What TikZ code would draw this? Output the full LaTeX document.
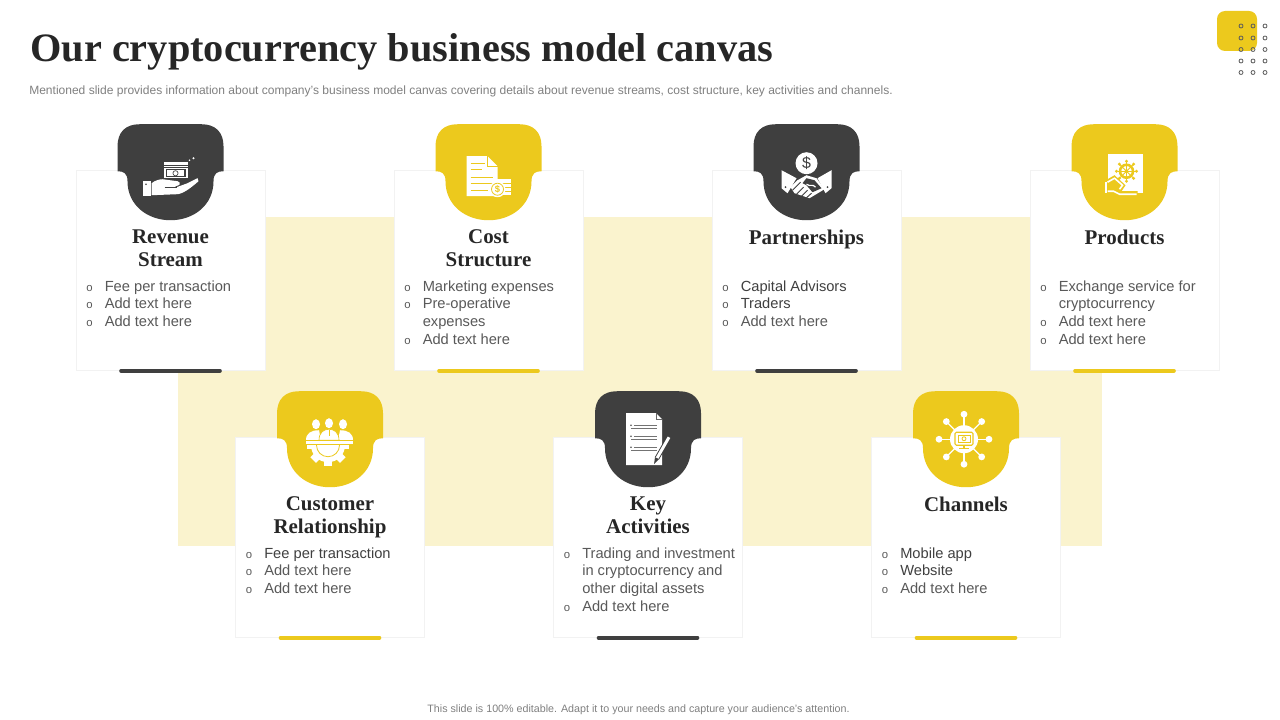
\documentclass[tikz,border=0pt]{standalone}
\usepackage{fontspec}
\setmainfont{Liberation Sans}
\newfontfamily\headfont{Liberation Serif}
\usetikzlibrary{positioning,shadows}
\definecolor{inkgrey}{HTML}{3F3F3F}
\definecolor{signal}{HTML}{ECC91D}
\definecolor{paleband}{HTML}{FAF3CE}
\definecolor{softtext}{HTML}{595959}
\definecolor{darktext}{HTML}{404040}
\definecolor{notegrey}{HTML}{7F7F7F}
\newcommand{\bul}{\llap{\fontsize{8.5}{8.5}\selectfont o\hspace{9pt}}}
\newcommand{\dk}[1]{\textcolor{darktext}{#1}}
\tikzset{
  card/.style={draw=black!5,fill=white,minimum width=141.5pt,minimum height=150pt,inner sep=0,
    drop shadow={shadow xshift=.7pt,shadow yshift=-.7pt,opacity=.1,fill=black}},
  cardhead/.style={align=center,inner sep=0,anchor=north,text=black!85,
    font=\headfont\bfseries\fontsize{15.7}{17.3}\selectfont},
  itemlist/.style={align=left,inner sep=0,anchor=north west,text=softtext,
    font=\fontsize{11}{13.2}\selectfont},
  bar/.style={line width=3pt,line cap=round},
  pics/badge/.style={code={
    \fill[#1] (-53,-24) .. controls (-53,-38) and (-45,-46) .. (-31,-46) -- (31,-46)
      .. controls (45,-46) and (53,-38) .. (53,-24) -- (53,1)
      .. controls (47,1) and (43,3) .. (43,11) .. controls (43,35) and (23,50) .. (0,50)
      .. controls (-23,50) and (-43,35) .. (-43,11) .. controls (-43,3) and (-47,1) .. (-53,1) -- cycle;
  }},
  pics/moneyhand/.style={code={
    \fill[white] (-28,11) rectangle (-20,26);
    \fill[inkgrey] (-24.5,14) circle (.8);
    \fill[white] (-19,13) .. controls (-15,10) and (-11,9) .. (-8,9) -- (7,11)
      .. controls (11,12) and (10,16) .. (4,16) -- (6,17) -- (17,13) -- (27,8) -- (28,11)
      .. controls (20,18) and (12,24) .. (6,24) -- (-19,25) -- cycle;
    \draw[inkgrey,line width=.5pt] (-6,17) -- (6,17);
    \fill[white] (-7,-8) rectangle (17,8);
    \draw[inkgrey,line width=.4pt] (-7,-5) -- (17,-5) (-7,-2.5) -- (17,-2.5);
    \fill[inkgrey] (-5,-1) rectangle (15,7);
    \fill[white] (-3.5,0) rectangle (13.5,6);
    \draw[inkgrey,line width=.5pt] (5,3) circle (2.6);
    \fill[white] (23,-12) circle (1.2) (19,-10) circle (.9);
  }},
  pics/costdoc/.style={code={
    \fill[white] (-22,-14) -- (-1,-14) -- (9,-4) -- (9,26) -- (-22,26) -- cycle;
    \draw[signal,line width=.6pt] (-1,-14) -- (-1,-4) -- (9,-4);
    \draw[signal,line width=1pt] (-18,-7) -- (-4,-7) (-18,-1) -- (-7,-1) (-18,7) -- (4,7)
      (-18,13) -- (4,13) (-18,20) -- (-1,20);
    \fill[white] (6,9) rectangle (22,25);
    \draw[signal,line width=.6pt] (10,13) -- (22,13) (10,17) -- (22,17) (10,21) -- (22,21);
    \fill[white] (9,19) circle (8);
    \draw[signal,line width=.6pt] (9,19) circle (6);
    \node[inner sep=0,text=signal,font=\bfseries\fontsize{7}{7}\selectfont] (-d) at (9,19) {\$};
  }},
  pics/shake/.style={code={
    \fill[white] (0,-7) circle (11);
    \node[inner sep=0,text=inkgrey,font=\fontsize{12}{12}\selectfont] (-d) at (0,-7) {\$};
    \fill[white] (-25,0) -- (-10,8) -- (-19,23) -- (-25,18) -- cycle;
    \fill[white] (25,0) -- (11,8) -- (19,23) -- (25,18) -- cycle;
    \fill[white] (-9,10) -- (0,5) -- (10,8) -- (18,19) -- (3,28) -- (-12,23) -- (-16,17) -- cycle;
    \fill[inkgrey] (-4,13) -- (0,8) -- (8,10) -- (15,18) -- (6,22) -- (0,15) -- cycle;
    \draw[white,line width=.9pt] (0,14) .. controls (4,17) and (6,13) .. (9,17);
    \draw[inkgrey,line width=.7pt] (-14,20) -- (-6,12) (-10,24) -- (-3,17) (-5,26) -- (1,20) (0,27.5) -- (5,23);
    \fill[inkgrey] (-21,17) circle (1) (21,17) circle (1);
  }},
  pics/handbook/.style={code={
    \fill[white] (-17,-16) rectangle (18,23);
    \draw[signal,line width=1.9pt] (2,1) circle (6.5);
    \draw[signal,line width=.7pt] (2,1) circle (1.5);
    \foreach \a in {0,45,...,315} {
      \draw[signal,line width=.7pt] (2,1) -- ++(\a:9);
      \fill[signal] (2,1) ++(\a:10) circle (1.7);
    }
    \fill[signal] (-23,9) rectangle (-13,26);
    \fill[signal] (-17,9) -- (-10,5) -- (1,15) -- (-3,21) -- (13,21) -- (13,26) -- (-16,26) -- cycle;
    \draw[white,line width=1.2pt] (-17,12) -- (-10,8) -- (-2,15) -- (-5,19)
      (-17,21) -- (-11,21) -- (-5,24) -- (12,24);
    \fill[white] (-20,12) rectangle (-17.5,23);
  }},
  pics/people/.style={code={
    \begin{scope}
      \clip (-30,7) rectangle (30,32);
      \foreach \a in {0,45,90,135,180} {
        \fill[white,rotate around={\a-90:(-2,8)}] (-6,22) rectangle (2,29);
      }
      \fill[white] (-2,8) circle (17);
      \draw[signal,line width=.6pt] (-2,8) circle (11.5);
    \end{scope}
    \fill[white] (-14,-13) ellipse (4 and 5) (-1,-14) ellipse (4 and 5) (13,-13) ellipse (4 and 5);
    \fill[white] (-24,3) .. controls (-24,-4) and (-19,-7) .. (-11,-7) -- (-9,3) -- cycle;
    \fill[white] (23,3) .. controls (23,-4) and (18,-7) .. (10,-7) -- (8,3) -- cycle;
    \fill[white,draw=signal,line width=.5pt] (-11,3) .. controls (-11,-5) and (-6,-8) .. (-1,-8)
      .. controls (4,-8) and (9,-5) .. (9,3) -- cycle;
    \draw[signal,line width=.7pt] (-1,-7) -- (-1,-1);
    \fill[white] (-24,3) rectangle (23,8);
    \draw[signal,line width=.5pt] (-24,3.4) -- (23,3.4);
    \draw[signal,line width=.5pt] (-24,7.5) -- (23,7.5);
  }},
  pics/notepage/.style={code={
    \fill[white] (-22,-24) -- (8,-24) -- (14,-18) -- (14,28) -- (-22,28) -- cycle;
    \draw[black!60,line width=.5pt] (8,-24) -- (8,-18) -- (14,-18);
    \foreach \p in {-12,-1,10} {
      \fill[black!70] (-17,\p) circle (.9);
      \draw[black!55,line width=.9pt] (-14,\p) -- (9,\p) (-17,\p+3) -- (9,\p+3);
    }
    \draw[inkgrey,line width=3.6pt] (9,21) -- (21,0);
    \draw[white,line width=2.2pt] (9,21) -- (21,0);
    \fill[inkgrey] (6,27) -- (7,20) -- (11,22) -- cycle;
  }},
  pics/hubnet/.style={code={
    \foreach \a in {0,45,...,315} {
      \draw[white,line width=.9pt] (-2,2) -- ++(\a:25);
      \fill[white] (-2,2) ++(\a:25) circle (3.4);
    }
    \fill[white] (-2,2) circle (14);
    \draw[signal,line width=.8pt,rounded corners=1pt] (-11,-5) rectangle (7,8);
    \draw[signal,line width=.6pt] (-8,-2) rectangle (4,5);
    \draw[signal,line width=.6pt] (-2,1.5) circle (2);
    \draw[signal,line width=.8pt] (-2,8) -- (-2,11) (-7,11.5) -- (3,11.5);
  }}
}
\begin{document}
\begin{tikzpicture}[x=.75pt,y=-.75pt,on grid,node distance=238.5pt]
  \useasboundingbox (0,0) rectangle (1280,720);
  \fill[paleband] (178,217) rectangle (1102,546);

  \node[inner sep=0,anchor=base west,text=black!85,font=\headfont\bfseries\fontsize{30.25}{30.25}\selectfont] (title) at (30,62)
    {Our cryptocurrency business model canvas};
  \node[inner sep=0,anchor=base west,text=notegrey,font=\fontsize{9.02}{9.02}\selectfont] (subtitle) at (29,95)
    {Mentioned slide provides information about company’s business model canvas covering details about revenue streams, cost structure, key activities and channels.};
  \node[inner sep=0,anchor=base,text=notegrey,font=\fontsize{8.03}{8.03}\selectfont] (footer) at (638.5,712)
    {This slide is 100\% editable. Adapt it to your needs and capture your audience’s attention.};

  % deco corner
  \fill[signal,rounded corners=6pt] (1217,11) rectangle (1257,51);
  \foreach \px in {1241,1253,1265} {
    \foreach \py in {26,38,49.5,61,72.5} {
      \draw[inkgrey!85,line width=.6pt] (\px,\py) circle (2);
    }
  }

  % upper row
  \node[card] (rev) at (170.5,270.5) {};
  \node[card] (cost) [right=of rev] {};
  \node[card] (part) [right=of cost] {};
  \node[card] (prod) [right=of part] {};
  % lower row
  \node[card] (cust) at (330,537.5) {};
  \node[card] (keya) [right=of cust] {};
  \node[card] (chan) [right=of keya] {};

  \draw[bar,inkgrey] ([xshift=-37pt]rev.south) -- ([xshift=37pt]rev.south);
  \draw[bar,signal] ([xshift=-37pt]cost.south) -- ([xshift=37pt]cost.south);
  \draw[bar,inkgrey] ([xshift=-37pt]part.south) -- ([xshift=37pt]part.south);
  \draw[bar,signal] ([xshift=-37pt]prod.south) -- ([xshift=37pt]prod.south);
  \draw[bar,signal] ([xshift=-37pt]cust.south) -- ([xshift=37pt]cust.south);
  \draw[bar,inkgrey] ([xshift=-37pt]keya.south) -- ([xshift=37pt]keya.south);
  \draw[bar,signal] ([xshift=-37pt]chan.south) -- ([xshift=37pt]chan.south);

  \pic at (rev.north) {badge=inkgrey};
  \pic at (cost.north) {badge=signal};
  \pic at (part.north) {badge=inkgrey};
  \pic at (prod.north) {badge=signal};
  \pic at (cust.north) {badge=signal};
  \pic at (keya.north) {badge=inkgrey};
  \pic at (chan.north) {badge=signal};

  \pic at (rev.north) {moneyhand};
  \pic at (cost.north) {costdoc};
  \pic at (part.north) {shake};
  \pic at (prod.north) {handbook};
  \pic at (cust.north) {people};
  \pic at (keya.north) {notepage};
  \pic at (chan.north) {hubnet};

  \node[cardhead] (revH) at ([yshift=-44.3pt]rev.north) {Revenue\\Stream};
  \node[cardhead] (costH) at ([yshift=-44.3pt]cost.north) {Cost\\Structure};
  \node[cardhead] (partH) at ([yshift=-44.3pt]part.north) {Partnerships};
  \node[cardhead] (prodH) at ([yshift=-44.3pt]prod.north) {Products};
  \node[cardhead] (custH) at ([yshift=-44.3pt]cust.north) {Customer\\Relationship};
  \node[cardhead] (keyaH) at ([yshift=-44.3pt]keya.north) {Key\\Activities};
  \node[cardhead] (chanH) at ([yshift=-44.3pt]chan.north) {Channels};

  \node[itemlist] (revL) at ([xshift=-49.5pt,yshift=-82.6pt]rev.north)
    {\bul Fee per transaction\\\bul Add text here\\\bul Add text here};
  \node[itemlist] (costL) at ([xshift=-49.5pt,yshift=-82.6pt]cost.north)
    {\bul Marketing expenses\\\bul Pre-operative\\expenses\\\bul Add text here};
  \node[itemlist] (partL) at ([xshift=-49.5pt,yshift=-82.6pt]part.north)
    {\bul\dk{Capital Advisors}\\\bul\dk{Traders}\\\bul Add text here};
  \node[itemlist] (prodL) at ([xshift=-49.5pt,yshift=-82.6pt]prod.north)
    {\bul Exchange service for\\cryptocurrency\\\bul Add text here\\\bul Add text here};
  \node[itemlist] (custL) at ([xshift=-49.5pt,yshift=-82.6pt]cust.north)
    {\bul\dk{Fee per transaction}\\\bul Add text here\\\bul Add text here};
  \node[itemlist] (keyaL) at ([xshift=-49.5pt,yshift=-82.6pt]keya.north)
    {\bul Trading and investment\\in cryptocurrency and\\other digital assets\\\bul Add text here};
  \node[itemlist] (chanL) at ([xshift=-49.5pt,yshift=-82.6pt]chan.north)
    {\bul\dk{Mobile app}\\\bul\dk{Website}\\\bul Add text here};
\end{tikzpicture}
\end{document}
